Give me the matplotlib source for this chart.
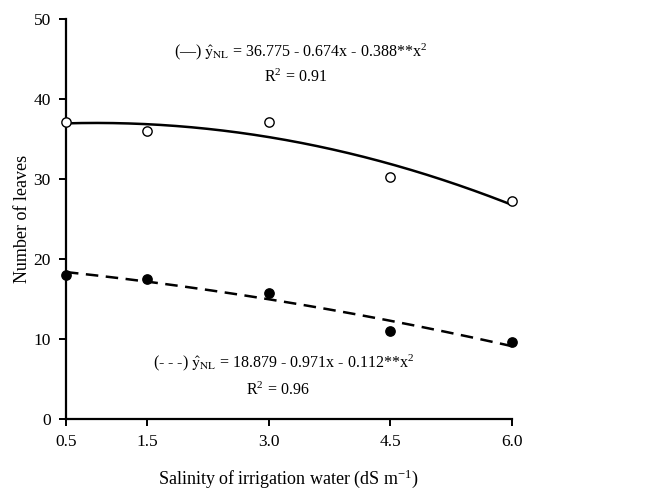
import numpy as np
import matplotlib
matplotlib.use("Agg")
import matplotlib.pyplot as plt

# data
salinity = [0.5, 1.5, 3.0, 4.5, 6.0]
leaves_open = [37.1, 36.0, 37.1, 30.2, 27.3]
leaves_filled = [18.0, 17.5, 15.8, 11.0, 9.6]
xticks = [0.5, 1.5, 3.0, 4.5, 6.0]
xtick_labels = ["0.5", "1.5", "3.0", "4.5", "6.0"]
yticks = [0, 10, 20, 30, 40, 50]

plt.rcParams['font.family'] = ['Liberation Serif', 'DejaVu Serif']
plt.rcParams['mathtext.fontset'] = 'stix'

fig = plt.figure(figsize=(6.5, 4.98), dpi=100)
ax = fig.add_axes([0.1015, 0.1586, 0.6862, 0.8032])

# quadratic regression curves through the points
xs = np.linspace(0.5, 6.0, 200)
c1 = np.polyfit(salinity, leaves_open, 2)
c2 = np.polyfit(salinity, leaves_filled, 2)
ax.plot(xs, np.polyval(c1, xs), color='black', lw=1.8)
ax.plot(xs, np.polyval(c2, xs), color='black', lw=1.8, ls=(0, (5, 3)))

ax.scatter(salinity, leaves_open, s=45, facecolor='white', edgecolor='black',
           linewidth=1.0, zorder=3, clip_on=False)
ax.scatter(salinity, leaves_filled, s=45, color='black', zorder=3, clip_on=False)

ax.set_xlim(0.5, 6.0)
ax.set_ylim(0, 50)
ax.set_xticks(xticks)
ax.set_xticklabels(xtick_labels)
ax.set_yticks(yticks)
for s in ['top', 'right']:
    ax.spines[s].set_visible(False)
for s in ['left', 'bottom']:
    ax.spines[s].set_linewidth(1.6)
ax.tick_params(direction='out', length=5, width=1.4, labelsize=12.5, pad=6)

ax.set_xlabel(r"Salinity of irrigation water (dS m$^{\mathregular{-1}}$)", fontsize=13, labelpad=12)
ax.set_ylabel("Number of leaves", fontsize=13, labelpad=2)

ax.text(3.39, 45.9, r"(—) $\hat{\mathrm{y}}_{\mathrm{NL}}$ = 36.775 - 0.674x - 0.388**x$^{\mathregular{2}}$",
        ha='center', va='center', fontsize=11.5)
ax.text(3.33, 42.7, r"R$^{\mathregular{2}}$ = 0.91", ha='center', va='center', fontsize=11.5)
ax.text(3.18, 7.0, r"(- - -) $\hat{\mathrm{y}}_{\mathrm{NL}}$ = 18.879 - 0.971x - 0.112**x$^{\mathregular{2}}$",
        ha='center', va='center', fontsize=11.5)
ax.text(3.11, 3.6, r"R$^{\mathregular{2}}$ = 0.96", ha='center', va='center', fontsize=11.5)

fig.savefig("out.png", dpi=100)
